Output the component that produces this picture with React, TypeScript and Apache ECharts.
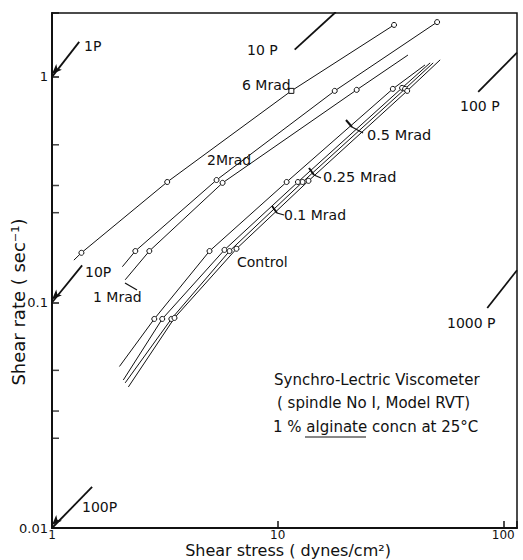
import React, { useEffect, useRef } from "react";
import * as echarts from "echarts";

// Axis ticks
const xTickValues = [1, 10, 100];
const yTickValues = [0.01, 0.1, 1];
const yMinorTicks = [0.025, 0.033, 0.05, 0.25, 0.33, 0.5];

// Curves (shear stress dynes/cm2, shear rate 1/s)
const seriesNames = ["6 Mrad", "2 Mrad", "1 Mrad", "0.5 Mrad", "0.25 Mrad", "0.1 Mrad", "Control"];
const points6Mrad = [[1.35, 0.166], [3.24, 0.342], [11.5, 0.867], [32.8, 1.7]];
const points2Mrad = [[2.34, 0.169], [5.36, 0.349], [17.9, 0.867], [50.9, 1.75]];
const points1Mrad = [[2.7, 0.169], [5.7, 0.339], [22.4, 0.876]];
const points05Mrad = [[2.84, 0.0845], [4.99, 0.169], [10.96, 0.342], [32.4, 0.885]];
const points025Mrad = [[3.08, 0.0845], [5.81, 0.171], [12.3, 0.342], [35.6, 0.894]];
const points01Mrad = [[3.38, 0.0845], [6.12, 0.169], [12.9, 0.342], [36.7, 0.885]];
const pointsControl = [[3.49, 0.0854], [6.57, 0.173], [13.7, 0.346], [37.5, 0.867]];
const curvePoints = [points6Mrad, points2Mrad, points1Mrad, points05Mrad, points025Mrad, points01Mrad, pointsControl];
const curveStarts = [[1.25, 0.154], [2.05, 0.144], [2.11, 0.126], [1.99, 0.052], [2.07, 0.0453], [2.11, 0.044], [2.18, 0.0422]];
const curveEnds: (number[] | null)[] = [null, null, [37.8, 1.25], [45.0, 1.13], [47.4, 1.154], [48.9, 1.154], [52.5, 1.19]];

// Constant-viscosity guide lines
const viscosityLabels = ["1P", "10P", "10 P", "100P", "100 P", "1000 P"];
const viscositySegments = [
  [[1, 1], [1.32, 1.43]],
  [[1, 0.1], [1.36, 0.146]],
  [[11.9, 1.32], [18.1, 1.94]],
  [[1, 0.01], [1.506, 0.0152]],
  [[77.4, 0.858], [115, 1.28]],
  [[84.9, 0.0945], [115, 0.139]],
];
const viscosityArrow = [true, true, false, true, false, false];

const FONT = "DejaVu Sans";

export default function App() {
  const ref = useRef<HTMLDivElement>(null);
  useEffect(() => {
    if (!ref.current) return;
    const chart = echarts.init(ref.current, null, { renderer: "svg" });

    const curveSeries = curvePoints.map((pts, i) => {
      const data: any[] = [{ value: curveStarts[i], symbol: "none" }];
      pts.forEach((p, j) => {
        if (i === 0 && j === 2) data.push({ value: p, symbol: "rect", symbolSize: 5 });
        else data.push({ value: p });
      });
      if (curveEnds[i]) data.push({ value: curveEnds[i], symbol: "none" });
      return {
        name: seriesNames[i],
        type: "line",
        data,
        smooth: false,
        symbol: "circle",
        symbolSize: 5,
        showSymbol: true,
        lineStyle: { color: "#111", width: 1 },
        itemStyle: { color: "#fff", borderColor: "#111", borderWidth: 1 },
        z: 3,
      };
    });

    const guideSeries = viscositySegments.map((seg, i) => ({
      name: viscosityLabels[i],
      type: "line",
      data: [
        viscosityArrow[i]
          ? { value: seg[0], symbol: "arrow", symbolSize: [6, 10], symbolRotate: 135, symbolOffset: [0, -3] }
          : { value: seg[0], symbol: "none" },
        { value: seg[1], symbol: "none" },
      ],
      lineStyle: { color: "#111", width: 1.8 },
      itemStyle: { color: "#111" },
      silent: true,
      z: 2,
    }));

    const minorTickSeries = {
      type: "scatter",
      data: yMinorTicks.map((v) => [1, v]),
      symbol: "rect",
      symbolSize: [7, 1.5],
      symbolOffset: [3.5, 0],
      itemStyle: { color: "#111" },
      silent: true,
      clip: false,
      z: 4,
    };

    const txt = (text: string, x: number, y: number, size = 14, extra: any = {}) => ({
      type: "text",
      x,
      y,
      style: { text, fontFamily: FONT, fontSize: size, fill: "#111", verticalAlign: "middle", align: "left", ...extra },
      z: 10,
    });
    const seg = (x1: number, y1: number, x2: number, y2: number, w = 1.2) => ({
      type: "line",
      shape: { x1, y1, x2, y2 },
      style: { stroke: "#111", lineWidth: w },
      z: 10,
    });

    chart.setOption({
      animation: false,
      backgroundColor: "#fff",
      grid: { left: 52, right: 6, top: 13, bottom: 32, show: true, borderColor: "#111", borderWidth: 1.5, backgroundColor: "transparent" },
      xAxis: {
        type: "log",
        logBase: 10,
        min: 1,
        max: 115,
        axisLine: { show: true, lineStyle: { color: "#111", width: 2 } },
        axisTick: { show: true, inside: true, length: 7, lineStyle: { color: "#111", width: 1.5 } },
        splitLine: { show: false },
        axisLabel: {
          fontFamily: FONT,
          fontSize: 12,
          color: "#111",
          margin: 1,
          formatter: (v: number) => (xTickValues.some((t) => Math.abs(t - v) / t < 1e-6) ? String(v) : ""),
        },
      },
      yAxis: {
        type: "log",
        logBase: 10,
        min: 0.01,
        max: 1.92,
        axisLine: { show: true, lineStyle: { color: "#111", width: 2 } },
        axisTick: { show: true, inside: true, length: 7, lineStyle: { color: "#111", width: 1.5 } },
        splitLine: { show: false },
        axisLabel: {
          fontFamily: FONT,
          fontSize: 13,
          color: "#111",
          margin: 4,
          formatter: (v: number) => {
            const hit = yTickValues.find((t) => Math.abs(t - v) / t < 1e-6);
            return hit !== undefined ? String(hit) : "";
          },
        },
      },
      series: [...curveSeries, ...guideSeries, minorTickSeries],
      graphic: [
        txt("1P", 84, 46),
        txt("10 P", 247, 50),
        txt("6 Mrad", 242, 85),
        txt("2Mrad", 207, 160),
        txt("100 P", 460, 106),
        txt("0.5 Mrad", 367, 135, 14.5),
        txt("0.25 Mrad", 323, 177, 14.5),
        txt("0.1 Mrad", 284, 215),
        txt("Control", 237, 262),
        txt("10P", 85, 272),
        txt("1 Mrad", 93, 297),
        txt("1000 P", 447, 323),
        txt("100P", 82, 507),
        txt("Synchro-Lectric Viscometer", 274, 380, 15),
        txt("( spindle No I, Model RVT)", 277, 403, 15),
        txt("1 % alginate concn at 25°C", 273, 427, 15),
        seg(305, 437, 366, 437, 1),
        seg(346, 120, 352, 127, 2),
        seg(352, 127, 363, 133),
        seg(309, 168, 314, 175, 2),
        seg(314, 175, 321, 178),
        seg(272, 206, 277, 213, 2),
        seg(277, 213, 284, 215),
        seg(125, 283, 137, 290),
        {
          type: "text",
          x: 288,
          y: 550,
          style: { text: "Shear stress ( dynes/cm²)", fontFamily: FONT, fontSize: 16, fill: "#111", align: "center", verticalAlign: "middle" },
          z: 10,
        },
        {
          type: "text",
          x: 18,
          y: 302,
          rotation: Math.PI / 2,
          style: { text: "Shear rate ( sec⁻¹)", fontFamily: FONT, fontSize: 18, fill: "#111", align: "center", verticalAlign: "middle" },
          z: 10,
        },
      ],
    });
    return () => chart.dispose();
  }, []);
  return <div ref={ref} style={{ position: "absolute", left: 0, top: 0, width: 523, height: 560 }} />;
}
